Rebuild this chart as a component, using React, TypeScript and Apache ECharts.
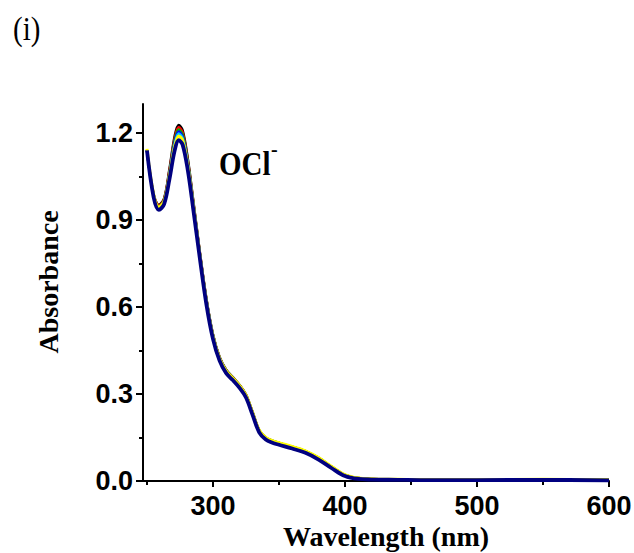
import React, { useEffect, useRef } from "react";
import * as echarts from "echarts";

const wavelengths = [250, 255, 259, 263, 267, 271, 274, 277, 281, 285, 290, 295, 300, 305, 310, 315, 320, 325, 330, 335, 340, 345, 350, 360, 370, 380, 390, 400, 410, 420, 440, 460, 500, 550, 600];

const absBlack = [1.14, 0.99, 0.952, 0.975, 1.075, 1.19, 1.228, 1.21, 1.11, 0.97, 0.792, 0.63, 0.506, 0.428, 0.384, 0.358, 0.332, 0.298, 0.238, 0.176, 0.15, 0.139, 0.131, 0.118, 0.103, 0.08, 0.049, 0.021, 0.01, 0.007, 0.006, 0.005, 0.005, 0.006, 0.004];
const absRed = [1.14, 0.988, 0.95, 0.972, 1.07, 1.182, 1.22, 1.202, 1.104, 0.966, 0.79, 0.628, 0.504, 0.426, 0.382, 0.357, 0.331, 0.297, 0.237, 0.175, 0.149, 0.138, 0.131, 0.118, 0.103, 0.08, 0.049, 0.021, 0.01, 0.007, 0.006, 0.005, 0.005, 0.006, 0.004];
const absGreen = [1.14, 0.987, 0.947, 0.969, 1.064, 1.175, 1.212, 1.195, 1.099, 0.963, 0.787, 0.626, 0.503, 0.425, 0.381, 0.356, 0.33, 0.296, 0.236, 0.175, 0.149, 0.138, 0.131, 0.118, 0.103, 0.08, 0.049, 0.021, 0.01, 0.007, 0.006, 0.005, 0.005, 0.006, 0.004];
const absBlue = [1.14, 0.986, 0.944, 0.966, 1.06, 1.168, 1.205, 1.188, 1.094, 0.96, 0.785, 0.624, 0.502, 0.424, 0.38, 0.355, 0.329, 0.295, 0.235, 0.174, 0.148, 0.137, 0.13, 0.117, 0.102, 0.079, 0.048, 0.02, 0.009, 0.006, 0.005, 0.004, 0.004, 0.005, 0.003];
const absCyan = [1.14, 0.985, 0.942, 0.963, 1.056, 1.161, 1.198, 1.182, 1.09, 0.958, 0.782, 0.622, 0.5, 0.422, 0.379, 0.354, 0.328, 0.294, 0.234, 0.173, 0.148, 0.137, 0.13, 0.117, 0.102, 0.079, 0.048, 0.02, 0.009, 0.006, 0.005, 0.004, 0.004, 0.005, 0.003];
const absYellow = [1.145, 0.99, 0.945, 0.965, 1.053, 1.154, 1.19, 1.175, 1.085, 0.955, 0.78, 0.62, 0.5, 0.423, 0.38, 0.355, 0.33, 0.296, 0.236, 0.176, 0.15, 0.139, 0.132, 0.119, 0.104, 0.081, 0.05, 0.022, 0.01, 0.007, 0.006, 0.005, 0.005, 0.006, 0.004];
const absNavy = [1.14, 0.98, 0.935, 0.955, 1.04, 1.14, 1.175, 1.16, 1.07, 0.94, 0.77, 0.61, 0.49, 0.415, 0.372, 0.348, 0.322, 0.288, 0.228, 0.168, 0.143, 0.132, 0.125, 0.112, 0.097, 0.074, 0.044, 0.017, 0.007, 0.005, 0.004, 0.003, 0.003, 0.004, 0.002];

const xMajor = [300, 400, 500, 600];
const xMinor = [250, 350, 450, 550];
const yMajor = [0, 0.3, 0.6, 0.9, 1.2];
const yMinor = [0.15, 0.45, 0.75, 1.05];

const seriesDefs = [
  { name: "s1", color: "#000000", values: absBlack, width: 2.5 },
  { name: "s2", color: "#ff0000", values: absRed, width: 2.5 },
  { name: "s3", color: "#00b000", values: absGreen, width: 2.5 },
  { name: "s4", color: "#0000ff", values: absBlue, width: 2.5 },
  { name: "s5", color: "#00c8ff", values: absCyan, width: 2.5 },
  { name: "s6", color: "#ffff00", values: absYellow, width: 3 },
  { name: "s7", color: "#000080", values: absNavy, width: 3.8 },
];

const serif = "Liberation Serif, Times New Roman, serif";
const tickFont = { fontFamily: "Liberation Sans, Arial, sans-serif", fontWeight: "bold" as const, fontSize: 27, color: "#000" };

export default function App() {
  const ref = useRef<HTMLDivElement>(null);
  useEffect(() => {
    if (!ref.current) return;
    const chart = echarts.init(ref.current, undefined, { renderer: "svg" });
    const axisLine = { show: true, lineStyle: { color: "#000", width: 2 } };
    chart.setOption({
      animation: false,
      backgroundColor: "#fff",
      grid: { left: 143, right: 25, top: 104, bottom: 72, containLabel: false, outerBoundsMode: "none" },
      xAxis: [
        {
          type: "value", min: 247, max: 600, position: "bottom",
          axisLine,
          splitLine: { show: false },
          axisTick: { show: true, customValues: xMajor, length: 6, inside: false, lineStyle: { color: "#000", width: 2 } },
          axisLabel: { customValues: xMajor, margin: 11, ...tickFont, formatter: (v: number) => String(v) },
        },
        {
          type: "value", min: 247, max: 600, position: "bottom",
          axisLine: { show: false },
          splitLine: { show: false },
          axisTick: { show: true, customValues: xMinor, length: 4, lineStyle: { color: "#000", width: 2 } },
          axisLabel: { show: false },
        },
      ],
      yAxis: [
        {
          type: "value", min: 0, max: 1.3, position: "left",
          axisLine,
          splitLine: { show: false },
          axisTick: { show: true, customValues: yMajor, length: 7, lineStyle: { color: "#000", width: 2 } },
          axisLabel: { customValues: yMajor, margin: 10, ...tickFont, formatter: (v: number) => v.toFixed(1) },
        },
        {
          type: "value", min: 0, max: 1.3, position: "left",
          axisLine: { show: false },
          splitLine: { show: false },
          axisTick: { show: true, customValues: yMinor, length: 4, lineStyle: { color: "#000", width: 2 } },
          axisLabel: { show: false },
        },
      ],
      series: seriesDefs.map((s) => ({
        type: "line",
        name: s.name,
        xAxisIndex: 0,
        yAxisIndex: 0,
        data: wavelengths.map((w, i) => [w, s.values[i]]),
        showSymbol: false,
        smooth: 0.35,
        lineStyle: { color: s.color, width: s.width },
        itemStyle: { color: s.color },
      })),
      graphic: [
        { type: "text", x: 13, y: 12, scaleY: 1.15, style: { text: "(i)", fontFamily: serif, fontSize: 29, fill: "#000" } },
        { type: "text", x: 219, y: 147, scaleY: 1.15, style: { text: "OCl", fontFamily: serif, fontWeight: "bold", fontSize: 29, fill: "#000" } },
        { type: "text", x: 271, y: 139, style: { text: "-", fontFamily: serif, fontWeight: "bold", fontSize: 20, fill: "#000" } },
        { type: "text", x: 386, y: 536, style: { text: "Wavelength (nm)", align: "center", verticalAlign: "middle", fontFamily: serif, fontWeight: "bold", fontSize: 28, fill: "#000" } },
        { type: "text", x: 48, y: 282, rotation: Math.PI / 2, style: { text: "Absorbance", align: "center", verticalAlign: "middle", fontFamily: serif, fontWeight: "bold", fontSize: 28, fill: "#000" } },
      ],
    });
    return () => chart.dispose();
  }, []);
  return <div ref={ref} style={{ position: "fixed", left: 0, top: 0, width: 634, height: 553 }} />;
}
